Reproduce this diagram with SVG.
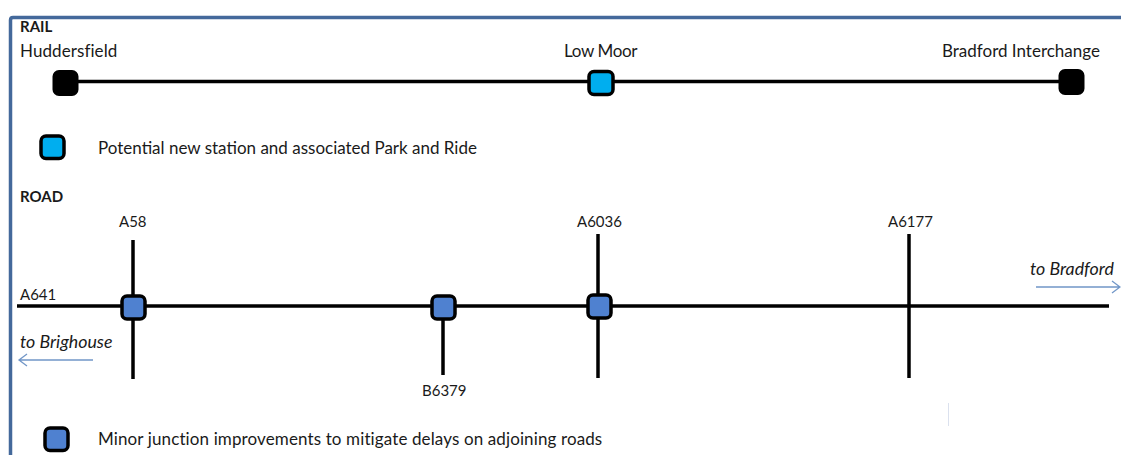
<svg xmlns="http://www.w3.org/2000/svg" width="1121" height="455" viewBox="0 0 1121 455">
<style>
text{font-family:"Lato","Open Sans",sans-serif;font-size:17px;fill:#1a1a1a}
.b{font-weight:700;font-size:15px}
.i{font-style:italic;font-size:17.800px}
.c{font-size:15px}
.ln{stroke:#000;stroke-width:3.500;fill:none;stroke-linecap:butt}
.arr{stroke:#7297c8;stroke-width:1.300;fill:none}
.blk{fill:#000;stroke:#000;stroke-width:3}
.cy{fill:#00aeef;stroke:#000;stroke-width:3.500}
.bl{fill:#4f81d0;stroke:#000;stroke-width:3.500}
</style>
<rect width="1121" height="455" fill="#fff"/>
<path id="frame" d="M10.500 455V20Q10.500 17.500 13 17.500H1121" fill="none" stroke="#44699b" stroke-width="3.500"/>
<g id="connectors">
<path class="ln" d="M66 81.500H1072"/>
<path class="ln" d="M17 306H1109"/>
<path class="ln" d="M133 240V379"/>
<path class="ln" d="M443 307V375"/>
<path class="ln" d="M598 234V378"/>
<path class="ln" d="M909 234V378"/>
<path class="arr" d="M93 360H19M27 354L19 360L27 366"/>
<path class="arr" d="M1036 287H1120M1112 281L1120 287L1112 293"/>
<path d="M948.500 403V426" stroke="#dbe1ee" stroke-width="1" fill="none"/>
</g>
<g id="rail-title"><text class="b" x="20" y="32">RAIL</text></g>
<g id="huddersfield"><text x="20" y="57" letter-spacing=".08">Huddersfield</text><rect class="blk" x="54" y="71.500" width="23" height="23" rx="5"/></g>
<g id="low-moor"><text x="564" y="57" letter-spacing="-.35">Low Moor</text><rect class="cy" x="589" y="71.500" width="24" height="23" rx="5"/></g>
<g id="bradford-interchange"><text x="942" y="57">Bradford Interchange</text><rect class="blk" x="1060" y="70.500" width="23" height="23" rx="5"/></g>
<g id="legend-rail"><rect class="cy" x="41" y="136" width="23" height="22.500" rx="5"/><text x="98" y="153.500">Potential new station and associated Park and Ride</text></g>
<g id="road-title"><text class="b" x="20" y="202">ROAD</text></g>
<g id="a58"><text class="c" x="119" y="227">A58</text><rect class="bl" x="122" y="296" width="23" height="23" rx="5"/></g>
<g id="a641"><text class="c" x="20" y="300">A641</text></g>
<g id="b6379"><text class="c" x="422" y="396">B6379</text><rect class="bl" x="432" y="296" width="23" height="23" rx="5"/></g>
<g id="a6036"><text class="c" x="577" y="227">A6036</text><rect class="bl" x="588" y="295" width="23" height="23" rx="5"/></g>
<g id="a6177"><text class="c" x="888" y="227">A6177</text></g>
<g id="to-brighouse"><text class="i" x="20" y="348">to Brighouse</text></g>
<g id="to-bradford"><text class="i" x="1030" y="275">to Bradford</text></g>
<g id="legend-road"><rect class="bl" x="45" y="428" width="23" height="22.500" rx="5"/><text x="98" y="445" letter-spacing=".12">Minor junction improvements to mitigate delays on adjoining roads</text></g>
</svg>
